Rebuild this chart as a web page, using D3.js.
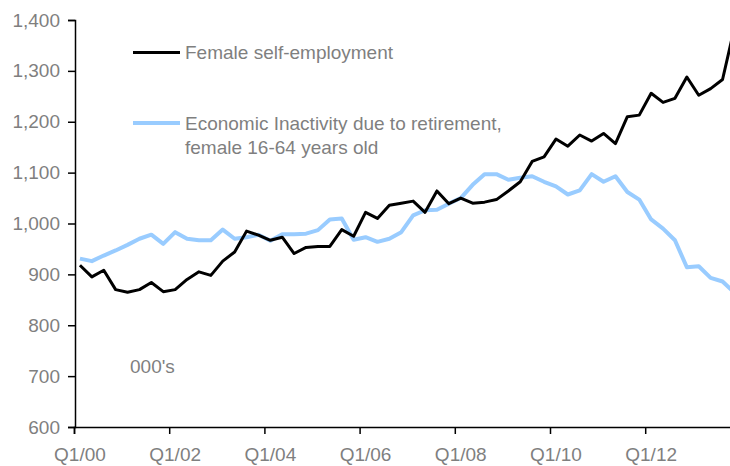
<!DOCTYPE html>
<html>
<head>
<meta charset="utf-8">
<script src="https://cdn.jsdelivr.net/npm/d3@7"></script>
<style>
    body { margin: 0; background: #fff; }
    svg text { font-family: "Liberation Sans", Arial, sans-serif; fill: #7f7f7f; }
</style>
</head>
<body>
<div id="chart"></div>
<script>
// quarterly, Q1/00 .. Q4/13
var selfEmployment = [918, 895, 908, 870, 865, 870, 884, 866, 870, 890, 905, 898,
    926, 944, 985, 977, 967, 973, 941, 953, 955, 955, 988, 975,
    1022, 1010, 1036, 1040, 1044, 1022, 1064, 1039, 1050, 1040, 1042, 1047,
    1064, 1082, 1122, 1131, 1166, 1152, 1174, 1162, 1177, 1157, 1210, 1213,
    1256, 1238, 1246, 1288, 1252, 1265, 1283, 1385]
var retirement = [931, 926, 937, 947, 958, 970, 978, 960, 983, 970, 967, 967,
    988, 970, 973, 978, 966, 979, 979, 980, 987, 1008, 1010, 968,
    973, 964, 970, 983, 1016, 1026, 1027, 1039, 1050, 1076, 1097, 1097,
    1086, 1090, 1093, 1082, 1073, 1057, 1065, 1097, 1082, 1093, 1062, 1047,
    1008, 990, 967, 914, 916, 893, 886, 864]
var xTickLabels = ['Q1/00', 'Q1/02', 'Q1/04', 'Q1/06', 'Q1/08', 'Q1/10', 'Q1/12']
var yTicks = [600, 700, 800, 900, 1000, 1100, 1200, 1300, 1400]

var width = 730
var height = 466
var axisLeftX = 75, plotRight = 74 + 56 * 11.9, plotTop = 20, plotBottom = 427
var fontSize = 19

var svg = d3.select('#chart').append('svg')
    .attr('width', width)
    .attr('height', height)

var x = d3.scaleLinear().domain([0, 56]).range([74, plotRight])
var y = d3.scaleLinear().domain([600, 1400]).range([plotBottom, plotTop])

// y axis
var yAxis = svg.append('g')
    .attr('transform', 'translate(' + axisLeftX + ',0)')
    .call(d3.axisLeft(y).tickValues(yTicks).tickSize(7).tickPadding(8).tickFormat(d3.format(',')))
yAxis.select('.domain').attr('stroke', '#000').attr('stroke-width', 1.5)
yAxis.selectAll('.tick line').attr('stroke', '#000').attr('stroke-width', 1.5)
yAxis.selectAll('.tick text').attr('font-size', fontSize).attr('fill', '#7f7f7f')

// x axis: ticks between categories, labels centred on the quarter
var xAxis = svg.append('g')
    .attr('transform', 'translate(0,' + plotBottom + ')')
    .call(d3.axisBottom(x).tickValues([0, 8, 16, 24, 32, 40, 48, 56]).tickSize(7).tickFormat(''))
xAxis.select('.domain').attr('stroke', '#000').attr('stroke-width', 1.5)
xAxis.selectAll('.tick line').attr('stroke', '#000').attr('stroke-width', 1.5)

svg.append('g').selectAll('text')
    .data(xTickLabels)
    .join('text')
    .attr('x', (d, i) => x(i * 8 + 0.5))
    .attr('y', 461)
    .attr('text-anchor', 'middle')
    .attr('font-size', fontSize)
    .text((d) => d)

var line = d3.line()
    .x((d, i) => x(i + 0.5))
    .y((d) => y(d))

svg.append('path')
    .datum(retirement)
    .attr('fill', 'none')
    .attr('stroke', '#99ccff')
    .attr('stroke-width', 4)
    .attr('stroke-linejoin', 'round')
    .attr('d', line)

svg.append('path')
    .datum(selfEmployment)
    .attr('fill', 'none')
    .attr('stroke', '#000')
    .attr('stroke-width', 3)
    .attr('stroke-linejoin', 'round')
    .attr('d', line)

// legend
var legend = svg.append('g')
legend.append('line')
    .attr('x1', 133).attr('x2', 180).attr('y1', 52.5).attr('y2', 52.5)
    .attr('stroke', '#000').attr('stroke-width', 3)
legend.append('text')
    .attr('x', 185).attr('y', 59)
    .attr('font-size', fontSize)
    .text('Female self-employment')
legend.append('line')
    .attr('x1', 133).attr('x2', 180).attr('y1', 123).attr('y2', 123)
    .attr('stroke', '#99ccff').attr('stroke-width', 4)
legend.append('text')
    .attr('x', 185).attr('y', 129.5)
    .attr('font-size', fontSize)
    .text('Economic Inactivity due to retirement,')
legend.append('text')
    .attr('x', 185).attr('y', 154)
    .attr('font-size', fontSize)
    .text('female 16-64 years old')

svg.append('text')
    .attr('x', 130).attr('y', 373)
    .attr('font-size', fontSize)
    .text("000's")
</script>
</body>
</html>
